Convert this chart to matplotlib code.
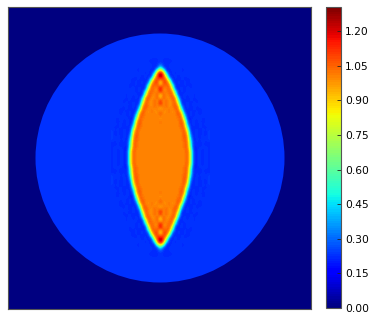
import numpy as np
import matplotlib
matplotlib.use('Agg')
import matplotlib.pyplot as plt
from matplotlib.patches import Circle

# colour levels
tick_values = [0.00, 0.15, 0.30, 0.45, 0.60, 0.75, 0.90, 1.05, 1.20]
vmax = 1.304
disk_level = 0.225
disk_radius = 124.5
cell = 3.0

# top right quarter of the lens area, one row every 3 px going up from the centre
lens_rows = [
    [1.0, 1.0, 1.0, 1.0, 1.0, 1.0, 1.0, 1.0, 1.0, 1.08, .82, .23, .20, .25, .20, .24, .22],
    [1.0, 1.0, 1.0, 1.0, 1.0, 1.0, 1.0, 1.0, 1.0, 1.08, .82, .23, .20, .25, .20, .24, .22],
    [1.0, 1.0, 1.0, 1.0, 1.0, 1.0, 1.0, 1.0, 1.0, 1.08, .82, .23, .20, .25, .20, .24, .22],
    [1.0, 1.0, 1.0, 1.0, 1.0, 1.0, 1.0, 1.0, 1.02, 1.08, .71, .20, .20, .24, .22, .24, .22],
    [1.0, 1.0, 1.0, 1.0, 1.0, 1.0, 1.0, 1.0, 1.04, 1.06, .60, .19, .23, .21, .23, .22, .22],
    [1.0, 1.0, 1.0, 1.0, 1.0, 1.0, 1.0, 1.0, 1.04, 1.06, .60, .19, .23, .21, .23, .22, .22],
    [1.0, 1.0, 1.0, 1.0, 1.0, 1.0, 1.0, 1.0, 1.06, 1.03, .49, .19, .24, .22, .24, .22, .24],
    [1.0, 1.0, 1.0, 1.0, 1.0, 1.0, 1.0, 1.0, 1.08, 1.00, .39, .19, .25, .20, .24, .22, .24],
    [1.0, 1.0, 1.0, 1.0, 1.0, 1.0, 1.0, 1.0, 1.09, .92, .30, .19, .25, .20, .24, .20, .24],
    [1.0, 1.0, 1.0, 1.0, 1.0, 1.0, 1.0, 1.01, 1.08, .82, .23, .20, .25, .20, .24, .22, .24],
    [1.0, 1.0, 1.0, 1.0, 1.0, 1.0, 1.0, 1.04, 1.06, .60, .19, .23, .21, .23, .22, .22, .225],
    [1.01, 1.0, 1.0, 1.0, 1.0, 1.0, 1.0, 1.08, 1.00, .39, .19, .25, .20, .24, .22, .23, .225],
    [1.03, 1.0, 1.01, 1.0, 1.01, 1.0, 1.0, 1.09, .92, .30, .19, .25, .20, .24, .21, .23, .225],
    [.97, 1.01, .99, 1.01, .99, 1.0, 1.02, 1.08, .71, .20, .20, .24, .22, .24, .22, .225, .225],
    [1.04, .99, 1.02, .99, 1.01, 1.0, 1.06, 1.03, .49, .19, .24, .21, .24, .22, .23, .225, .225],
    [1.07, .98, 1.0, 1.02, .99, 1.0, 1.09, .92, .30, .19, .25, .20, .24, .21, .23, .225, .225],
    [.95, 1.02, .98, 1.03, .98, 1.04, 1.06, .60, .19, .23, .21, .23, .22, .22, .225, .225, .225],
    [1.0, 1.0, 1.04, .98, 1.02, 1.08, 1.00, .39, .19, .25, .20, .24, .22, .23, .225, .225, .225],
    [1.17, .98, 1.05, .97, 1.01, 1.08, .82, .23, .20, .25, .20, .24, .22, .23, .225, .225, .225],
    [1.13, .97, 1.06, .96, 1.04, 1.06, .60, .19, .23, .21, .23, .22, .22, .225, .225, .225, .225],
    [.88, 1.08, .97, 1.0, 1.08, 1.00, .39, .19, .25, .20, .24, .22, .23, .225, .225, .225, .225],
    [.88, 1.06, .99, 1.02, 1.08, .71, .20, .20, .24, .22, .24, .22, .225, .225, .225, .225, .225],
    [1.15, 1.0, 1.0, 1.06, 1.03, .49, .19, .24, .21, .24, .22, .23, .225, .225, .225, .225, .225],
    [1.25, .98, 1.01, 1.08, .82, .23, .20, .25, .20, .24, .22, .23, .225, .225, .225, .225, .225],
    [1.00, 1.06, 1.04, 1.06, .60, .19, .23, .21, .23, .22, .22, .225, .225, .225, .225, .225, .225],
    [.82, 1.09, 1.09, .92, .30, .19, .25, .20, .24, .21, .23, .225, .225, .225, .225, .225, .225],
    [1.03, 1.10, 1.06, .60, .19, .23, .21, .23, .22, .22, .225, .225, .225, .225, .225, .225, .225],
    [1.28, 1.12, .82, .23, .20, .25, .20, .24, .22, .23, .225, .225, .225, .225, .225, .225, .225],
    [1.30, 1.08, .49, .19, .24, .21, .24, .22, .23, .225, .225, .225, .225, .225, .225, .225, .225],
    [.98, .71, .20, .20, .24, .22, .24, .22, .225, .225, .225, .225, .225, .225, .225, .225, .225],
    [.55, .25, .20, .24, .22, .24, .22, .225, .225, .225, .225, .225, .225, .225, .225, .225, .225],
    [.30, .22, .21, .23, .225, .23, .225, .225, .225, .225, .225, .225, .225, .225, .225, .225, .225],
    [.23, .22, .215, .22, .225, .225, .225, .225, .225, .225, .225, .225, .225, .225, .225, .225, .225],
    [.225, .225, .225, .225, .225, .225, .225, .225, .225, .225, .225, .225, .225, .225, .225, .225, .225],
]

quarter = np.array(lens_rows)
right = np.vstack([quarter[:0:-1], quarter])
lens = np.hstack([right[:, :0:-1], right])

cmap = plt.get_cmap('jet', 128)
norm = plt.Normalize(0, vmax)

fig = plt.figure(figsize=(3.74, 3.17), dpi=100)
ax = fig.add_axes([8 / 374, 1 - 309 / 317, 303 / 374, 302 / 317])
ax.set_facecolor(cmap(0))
ax.add_patch(Circle((0, 0), disk_radius, facecolor=cmap(norm(disk_level)), edgecolor='none'))

half_w = (lens.shape[1] / 2) * cell
half_h = (lens.shape[0] / 2) * cell
im = ax.imshow(lens, cmap=cmap, norm=norm, interpolation='bicubic', aspect='auto',
               extent=[-half_w, half_w, -half_h, half_h], zorder=2)
ax.set_xlim(-152, 151)
ax.set_ylim(-151, 151)
ax.set_xticks([])
ax.set_yticks([])
for s in ax.spines.values():
    s.set_color('#555555')
    s.set_linewidth(0.8)

cax = fig.add_axes([326 / 374, 1 - 308 / 317, 15 / 374, 301 / 317])
cb = fig.colorbar(im, cax=cax, ticks=tick_values, format='%.2f')
cb.ax.tick_params(labelsize=7.7, length=3, width=0.6, direction='in', pad=3, color='#222222')
cb.outline.set_edgecolor('#555555')
cb.outline.set_linewidth(0.8)

fig.savefig('out.png', dpi=100)
